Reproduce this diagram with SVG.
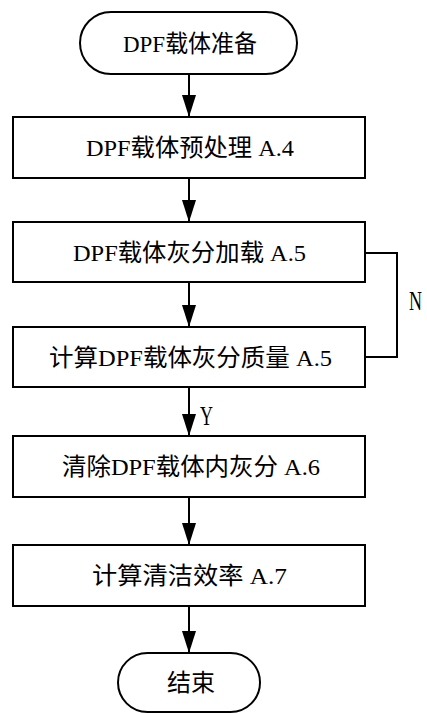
<svg xmlns="http://www.w3.org/2000/svg" width="427" height="713" viewBox="0 0 427 713">
<style>
.box{fill:#fff;stroke:#000;stroke-width:2}
.t{font-family:"Liberation Serif","Noto Sans CJK SC",serif;font-size:24px;fill:#000;text-anchor:middle}
.edge{fill:none;stroke:#000;stroke-width:2}
.lab{font-family:"Liberation Serif",serif;font-size:27px;fill:#000}
</style>
<defs>
<marker id="ah" markerWidth="22" markerHeight="14" refX="22" refY="7" orient="auto" markerUnits="userSpaceOnUse" viewBox="0 0 22 14">
<path d="M0,0 L22,7 L0,14 Z" fill="#000"/>
</marker>
</defs>
<rect width="427" height="713" fill="#fff"/>
<g id="start">
<rect class="box" x="80" y="12" width="217" height="62" rx="31" ry="31"/>
<text class="t" x="190" y="51.5" textLength="134" lengthAdjust="spacingAndGlyphs">DPF载体准备</text>
</g>
<g id="pretreat">
<rect class="box" x="13" y="117" width="352" height="61"/>
<text class="t" x="190" y="156" textLength="208" lengthAdjust="spacingAndGlyphs">DPF载体预处理 A.4</text>
</g>
<g id="loading">
<rect class="box" x="13" y="222" width="352" height="60"/>
<text class="t" x="189.5" y="260.5" textLength="233" lengthAdjust="spacingAndGlyphs">DPF载体灰分加载 A.5</text>
</g>
<g id="mass">
<rect class="box" x="13" y="327" width="352" height="60"/>
<text class="t" x="190.5" y="365.5" textLength="283" lengthAdjust="spacingAndGlyphs">计算DPF载体灰分质量 A.5</text>
</g>
<g id="clean">
<rect class="box" x="13" y="436" width="352" height="61"/>
<text class="t" x="191" y="475" textLength="258" lengthAdjust="spacingAndGlyphs">清除DPF载体内灰分 A.6</text>
</g>
<g id="efficiency">
<rect class="box" x="13" y="545" width="352" height="61"/>
<text class="t" x="189.5" y="584" textLength="195" lengthAdjust="spacingAndGlyphs">计算清洁效率 A.7</text>
</g>
<g id="end">
<rect class="box" x="118" y="653" width="142" height="59" rx="29.5" ry="29.5"/>
<text class="t" x="191" y="691" textLength="48" lengthAdjust="spacingAndGlyphs">结束</text>
</g>
<g id="connectors">
<line class="edge" x1="189" y1="74" x2="189" y2="117" marker-end="url(#ah)"/>
<line class="edge" x1="189" y1="178" x2="189" y2="222" marker-end="url(#ah)"/>
<line class="edge" x1="189" y1="282" x2="189" y2="327" marker-end="url(#ah)"/>
<line class="edge" x1="189" y1="387" x2="189" y2="436" marker-end="url(#ah)"/>
<line class="edge" x1="189" y1="497" x2="189" y2="545" marker-end="url(#ah)"/>
<line class="edge" x1="189" y1="606" x2="189" y2="653" marker-end="url(#ah)"/>
<polyline class="edge" points="365,253 397,253 397,357 365,357"/>
<text class="lab" x="200" y="425" textLength="13" lengthAdjust="spacingAndGlyphs">Y</text>
<text class="lab" x="409" y="310" textLength="13" lengthAdjust="spacingAndGlyphs">N</text>
</g>
</svg>
